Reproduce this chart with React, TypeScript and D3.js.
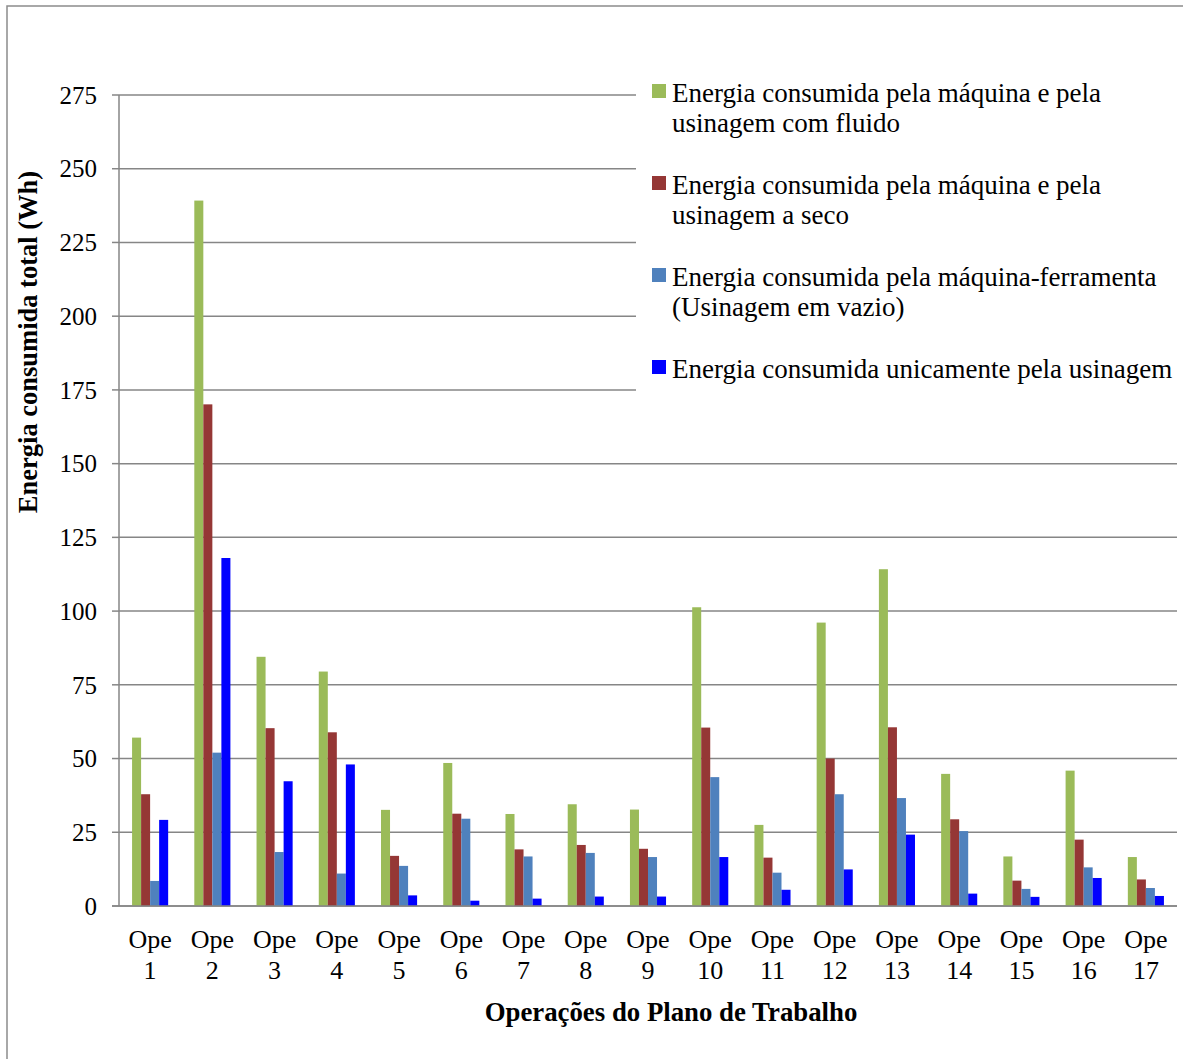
import React from "react";
import * as d3 from "d3";

const categories = ["1", "2", "3", "4", "5", "6", "7", "8", "9", "10", "11", "12", "13", "14", "15", "16", "17"];
const seriesNames = [
  ["Energia consumida pela máquina e pela", "usinagem com fluido"],
  ["Energia consumida pela máquina e pela", "usinagem a seco"],
  ["Energia consumida pela máquina-ferramenta", "(Usinagem em vazio)"],
  ["Energia consumida unicamente pela usinagem"],
];
const comFluido = [57.1, 239.2, 84.5, 79.5, 32.6, 48.5, 31.2, 34.5, 32.7, 101.3, 27.5, 96.1, 114.2, 44.8, 16.8, 45.9, 16.6];
const aSeco = [37.9, 170.1, 60.3, 58.9, 17.0, 31.3, 19.2, 20.7, 19.4, 60.5, 16.4, 50.0, 60.6, 29.4, 8.6, 22.5, 9.0];
const emVazio = [8.5, 52.0, 18.3, 11.0, 13.6, 29.6, 16.8, 18.0, 16.6, 43.7, 11.3, 37.9, 36.6, 25.4, 5.8, 13.1, 6.1];
const unicamente = [29.2, 118.0, 42.3, 48.0, 3.6, 1.8, 2.5, 3.2, 3.2, 16.6, 5.5, 12.4, 24.2, 4.2, 3.1, 9.5, 3.4];
const yTicks = [0, 25, 50, 75, 100, 125, 150, 175, 200, 225, 250, 275];
const colors = ["#9BBB59", "#953735", "#4F81BD", "#0000FF"];

const series = [comFluido, aSeco, emVazio, unicamente];

const FONT = "'Liberation Serif', 'Times New Roman', serif";

export default function App() {
  const W = 1183;
  const H = 1059;
  const left = 119;
  const right = 1177;
  const top = 95;
  const bottom = 906;

  const x = d3.scaleBand<string>().domain(categories).range([left, right]).paddingInner(0.42).paddingOuter(0.21);
  const xs = d3.scaleBand<number>().domain([0, 1, 2, 3]).range([0, x.bandwidth()]).padding(0);
  const y = d3.scaleLinear().domain([0, 275]).range([bottom, top]);

  const legendX = 652;
  const legendY0 = 84;
  const legendStep = 92;

  return (
    <svg width={W} height={H} style={{ display: "block", position: "absolute", left: 0, top: 0 }} fontFamily={FONT}>
      <rect x={0} y={0} width={W} height={H} fill="#fff" />
      <rect x={7} y={6} width={W + 20} height={H + 20} fill="none" stroke="#8c8c8c" strokeWidth={1.5} />
      {/* gridlines */}
      {yTicks.map((t) => (
        <line key={"g" + t} x1={left} x2={right} y1={y(t)} y2={y(t)} stroke="#868686" strokeWidth={1.5} />
      ))}
      {/* ticks */}
      {yTicks.map((t) => (
        <line key={"tk" + t} x1={left - 7} x2={left} y1={y(t)} y2={y(t)} stroke="#868686" strokeWidth={1.5} />
      ))}
      {yTicks.map((t) => (
        <text key={"tl" + t} x={97} y={y(t)} dy="0.35em" textAnchor="end" fontSize={25} fill="#000">
          {t}
        </text>
      ))}
      {/* bars */}
      {categories.map((c, i) => (
        <g key={c}>
          {series.map((s, k) => (
            <rect
              key={k}
              x={(x(c) as number) + (xs(k) as number)}
              y={y(s[i])}
              width={xs.bandwidth()}
              height={bottom - y(s[i])}
              fill={colors[k]}
            />
          ))}
        </g>
      ))}
      {/* axes */}
      <line x1={left} x2={left} y1={top} y2={bottom} stroke="#868686" strokeWidth={1.5} />
      <line x1={left - 7} x2={right} y1={bottom} y2={bottom} stroke="#868686" strokeWidth={1.5} />
      {/* x labels */}
      {categories.map((c) => {
        const cx = (x(c) as number) + x.bandwidth() / 2;
        return (
          <g key={"xl" + c}>
            <text x={cx} y={948} textAnchor="middle" fontSize={26}>Ope</text>
            <text x={cx} y={979} textAnchor="middle" fontSize={26}>{c}</text>
          </g>
        );
      })}
      <text x={671} y={1021} textAnchor="middle" fontSize={26.8} fontWeight="bold">
        Operações do Plano de Trabalho
      </text>
      <text transform="translate(37,342) rotate(-90)" textAnchor="middle" fontSize={26.5} fontWeight="bold">
        Energia consumida total (Wh)
      </text>
      {/* legend */}
      <rect x={636} y={72} width={W - 636} height={326} fill="#fff" />
      {seriesNames.map((lines, k) => (
        <g key={"lg" + k}>
          <rect x={legendX} y={legendY0 + k * legendStep} width={14} height={14} fill={colors[k]} />
          {lines.map((ln, j) => (
            <text key={j} x={672} y={legendY0 + 18 + k * legendStep + j * 30} fontSize={27}>
              {ln}
            </text>
          ))}
        </g>
      ))}
    </svg>
  );
}
